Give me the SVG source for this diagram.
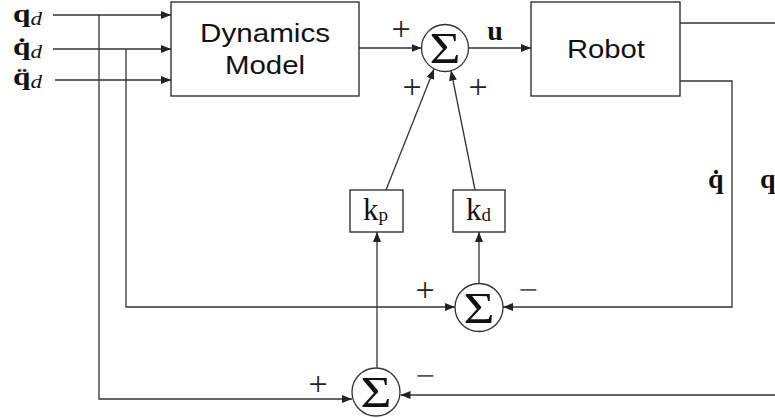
<svg xmlns="http://www.w3.org/2000/svg" width="775" height="418" viewBox="0 0 775 418">
<defs>
<style>
.box{fill:#fff;stroke:#333;stroke-width:1.4}
.sum{fill:#fff;stroke:#333;stroke-width:1.3}
.ln{fill:none;stroke:#333;stroke-width:1.3}
.sans{font-family:"Liberation Sans",Arial,sans-serif;font-size:26px;fill:#111;text-anchor:middle}
.math{font-family:"Liberation Serif","Times New Roman",serif;fill:#111}
.bq{font-weight:bold;font-size:28px}
.iq{font-weight:bold;font-size:24.5px}
.sub{font-style:italic;font-size:18px;font-weight:normal}
.sig{font-size:44px;text-anchor:middle}
.sgn{font-family:"Liberation Serif","Times New Roman",serif;font-size:34px;fill:#222;text-anchor:middle}
.neg{fill:#555}
</style>
<marker id="ah" viewBox="0 0 10 8" refX="10" refY="4" markerWidth="10" markerHeight="8" markerUnits="userSpaceOnUse" orient="auto">
<path d="M0,0 L10,4 L0,8 Z" fill="#222"/>
</marker>
</defs>
<rect width="775" height="418" fill="#fff"/>

<g id="connectors">
<line class="ln" x1="53" y1="15" x2="171" y2="15" marker-end="url(#ah)"/>
<line class="ln" x1="53" y1="49" x2="171" y2="49" marker-end="url(#ah)"/>
<line class="ln" x1="55" y1="80" x2="171" y2="80" marker-end="url(#ah)"/>
<polyline class="ln" points="99,15 99,399 352,399" marker-end="url(#ah)"/>
<polyline class="ln" points="126,49 126,307 455,307" marker-end="url(#ah)"/>
<line class="ln" x1="359" y1="48" x2="421.5" y2="48" marker-end="url(#ah)"/>
<line class="ln" x1="468.5" y1="48" x2="531" y2="48" marker-end="url(#ah)"/>
<line class="ln" x1="680" y1="23" x2="775" y2="23"/>
<polyline class="ln" points="680,81 732,81 732,307 503,307" marker-end="url(#ah)"/>
<line class="ln" x1="775" y1="395" x2="400.5" y2="395" marker-end="url(#ah)"/>
<line class="ln" x1="386" y1="190" x2="434" y2="69" marker-end="url(#ah)"/>
<line class="ln" x1="475" y1="190" x2="451" y2="70.5" marker-end="url(#ah)"/>
<line class="ln" x1="479" y1="283.5" x2="479" y2="232" marker-end="url(#ah)"/>
<line class="ln" x1="377" y1="367.5" x2="377" y2="232" marker-end="url(#ah)"/>
</g>

<g id="input-labels">
<text class="math iq" x="13" y="22" textLength="29" lengthAdjust="spacingAndGlyphs">q<tspan class="sub" dy="3">d</tspan></text>
<text class="math iq" x="13" y="55" textLength="29" lengthAdjust="spacingAndGlyphs">q̇<tspan class="sub" dy="3">d</tspan></text>
<text class="math iq" x="13" y="85" textLength="29" lengthAdjust="spacingAndGlyphs">q̈<tspan class="sub" dy="3">d</tspan></text>
</g>

<g id="dynamics-model">
<rect class="box" x="171" y="2" width="188" height="94"/>
<text class="sans" x="265" y="42" textLength="130" lengthAdjust="spacingAndGlyphs">Dynamics</text>
<text class="sans" x="265" y="74" textLength="80" lengthAdjust="spacingAndGlyphs">Model</text>
</g>

<g id="sum-top">
<circle class="sum" cx="445" cy="48" r="23.5"/>
<text class="math sig" x="445" y="63" textLength="31" lengthAdjust="spacingAndGlyphs">Σ</text>
<text class="sgn" x="401" y="40">+</text>
<text class="sgn" x="412" y="98">+</text>
<text class="sgn" x="478" y="98">+</text>
</g>

<g id="u-label">
<text class="math bq" x="495" y="40" text-anchor="middle">u</text>
</g>

<g id="robot">
<rect class="box" x="531" y="2" width="149" height="94"/>
<text class="sans" x="606" y="58" textLength="78" lengthAdjust="spacingAndGlyphs">Robot</text>
</g>

<g id="feedback-labels">
<text class="math bq" x="708" y="188">q̇</text>
<text class="math bq" x="760" y="188">q</text>
</g>

<g id="kp">
<rect class="box" x="350" y="190" width="53" height="42"/>
<text class="math" x="363" y="220" font-size="31">k<tspan font-size="19" dy="1">p</tspan></text>
</g>

<g id="kd">
<rect class="box" x="453" y="190" width="52" height="42"/>
<text class="math" x="466" y="220" font-size="31">k<tspan font-size="19" dy="1">d</tspan></text>
</g>

<g id="sum-velocity">
<circle class="sum" cx="479" cy="307.5" r="24"/>
<text class="math sig" x="479" y="322.5" textLength="31" lengthAdjust="spacingAndGlyphs">Σ</text>
<text class="sgn" x="425" y="301">+</text>
<text class="sgn neg" x="528" y="300.5">−</text>
</g>

<g id="sum-position">
<circle class="sum" cx="376" cy="392" r="24"/>
<text class="math sig" x="376" y="407" textLength="31" lengthAdjust="spacingAndGlyphs">Σ</text>
<text class="sgn" x="318" y="395">+</text>
<text class="sgn neg" x="425" y="386.5">−</text>
</g>
</svg>
